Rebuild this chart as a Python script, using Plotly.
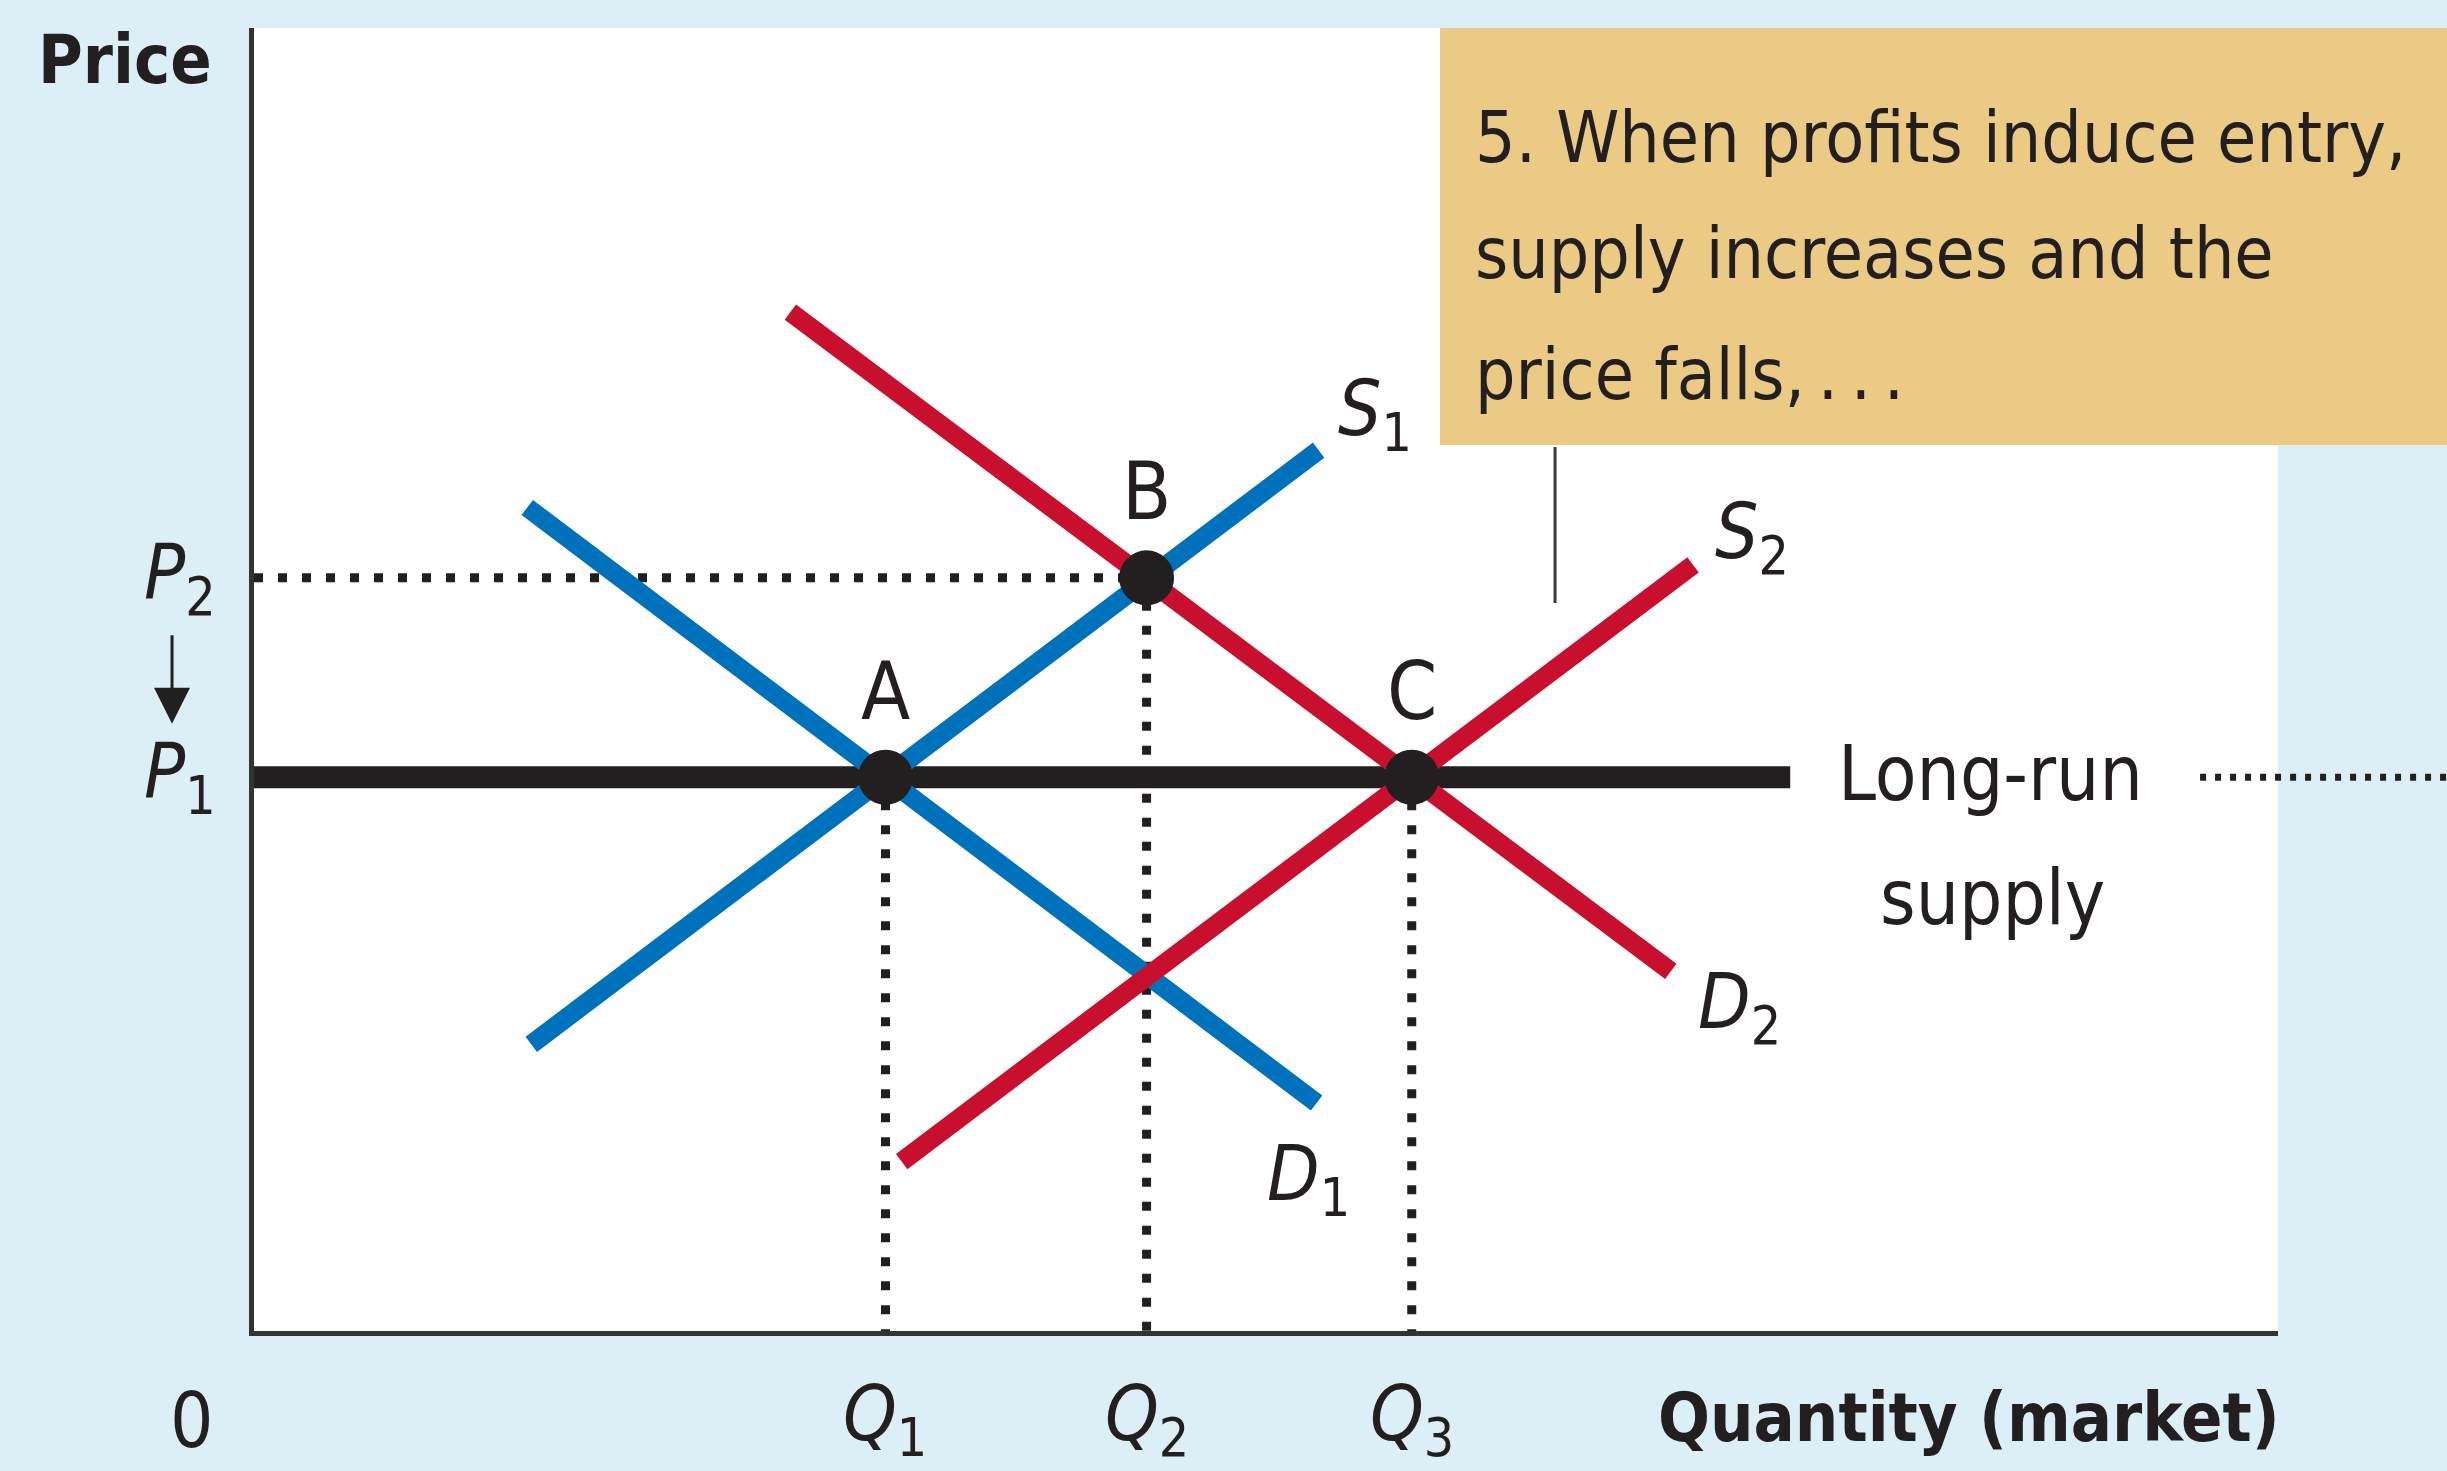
import plotly.graph_objects as go

# ---- data (quantity / price units, 0-100 scale) ----
Q = {"Q1": 31.2, "Q2": 44.1, "Q3": 57.2}
P = {"P1": 42.5, "P2": 57.8}

D1_x = [13.5, 52.5]
D1_y = [63.2, 17.5]
S1_x = [13.7, 52.6]
S1_y = [22.0, 67.6]
D2_x = [26.5, 70.0]
D2_y = [78.2, 27.6]
S2_x = [32.0, 71.1]
S2_y = [13.0, 58.8]
LRS_x = [0, 75.9]

eq_labels = ["A", "B", "C"]
eq_x = [Q["Q1"], Q["Q2"], Q["Q3"]]
eq_y = [P["P1"], P["P2"], P["P1"]]

callout_lines = ["5. When profits induce entry,", "supply increases and the",
                 "price falls,\u2009.\u2009.\u2009."]

BLUE = "#0071BB"
RED = "#C8102E"
INK = "#231F20"
BG = "#DDEFF6"
TAN = "#EACA84"
FONT = "DejaVu Sans Condensed, Liberation Sans Narrow, DejaVu Sans, sans-serif"

W, H = 2447, 1471
ML, MR, MT, MB = 254, 169, 28, 140

fig = go.Figure()

dot_style = dict(color=INK, width=9, dash="9px,15px")
# dotted guide lines
fig.add_trace(go.Scatter(x=[0, Q["Q2"]], y=[P["P2"], P["P2"]], mode="lines", line=dot_style))
fig.add_trace(go.Scatter(x=[Q["Q1"], Q["Q1"]], y=[P["P1"], 0], mode="lines", line=dot_style))
fig.add_trace(go.Scatter(x=[Q["Q2"], Q["Q2"]], y=[P["P2"], 0], mode="lines", line=dot_style))
fig.add_trace(go.Scatter(x=[Q["Q3"], Q["Q3"]], y=[P["P1"], 0], mode="lines", line=dot_style))

# long-run supply
fig.add_trace(go.Scatter(x=LRS_x, y=[P["P1"], P["P1"]], mode="lines", line=dict(color=INK, width=22)))

# curves
for xs, ys, c in [(D1_x, D1_y, BLUE), (S1_x, S1_y, BLUE), (D2_x, D2_y, RED), (S2_x, S2_y, RED)]:
    fig.add_trace(go.Scatter(x=xs, y=ys, mode="lines", line=dict(color=c, width=19)))

# equilibrium points
fig.add_trace(go.Scatter(x=eq_x, y=eq_y, mode="markers",
                         marker=dict(color=INK, size=55, line=dict(width=0))))

ann = []
FS = 76
FSB = 68
FSC = 71

def txt(text, x, y, xref="x", yref="y", size=FS, xanchor="center", yanchor="middle", **kw):
    d = dict(text=text, x=x, y=y, xref=xref, yref=yref, showarrow=False,
             xanchor=xanchor, yanchor=yanchor,
             font=dict(family=FONT, size=size, color=INK))
    d.update(kw)
    ann.append(d)

# point labels
for lab, x, y in zip(eq_labels, eq_x, eq_y):
    txt(lab, x, y, yshift=86, size=80)

# curve labels
txt("<i>S</i><sub>1</sub>", 55.4, 70.4)
txt("<i>S</i><sub>2</sub>", 74.0, 60.9)
txt("<i>D</i><sub>1</sub>", 52.1, 11.7)
txt("<i>D</i><sub>2</sub>", 73.4, 24.9)

# long-run supply label
txt("Long-run", 85.8, 42.8)
txt("supply", 85.9, 33.3)

# price ticks
txt("<i>P</i><sub>2</sub>", 0, P["P2"], xref="paper", xanchor="right", xshift=-36)
txt("<i>P</i><sub>1</sub>", 0, P["P1"], xref="paper", xanchor="right", xshift=-36)
# arrow P2 -> P1
ann.append(dict(x=-0.0405, y=46.6, xref="paper", yref="y", ax=0, ay=-90, showarrow=True,
                arrowhead=2, arrowsize=2.4, arrowwidth=3, arrowcolor=INK, text=""))

# quantity ticks
for name in ["Q1", "Q2", "Q3"]:
    txt("<i>Q</i><sub>%s</sub>" % name[1], Q[name], 0, yref="paper", yshift=-88)
txt("0", 0, 0, xref="paper", yref="paper", xshift=-62, yshift=-89)

# axis titles
txt("<b>Quantity (market)</b>", 1.0, 0, xref="paper", yref="paper", xanchor="right",
    yshift=-86, xshift=4, size=FSB)
txt("<b>Price</b>", 0, 1.0, xref="paper", yref="paper", xanchor="right",
    xshift=-40, yshift=-31, size=FSB)

# callout text (one annotation per line to keep the original line spacing)
callout_y = [0.9163, 0.8266, 0.7337]
for line, yy in zip(callout_lines, callout_y):
    txt(line, 0.6023, yy, xref="paper", yref="paper", xanchor="left", align="left", size=FSC)

shapes = [
    dict(type="rect", xref="paper", yref="paper", x0=0.586, x1=1.09, y0=0.680, y1=1.0,
         fillcolor=TAN, line=dict(width=0), layer="below"),
    dict(type="line", xref="paper", yref="paper", x0=0.6428, x1=0.6428, y0=0.6784, y1=0.5587,
         line=dict(color="#3a3a3a", width=3)),
    dict(type="line", xref="paper", yref="y", x0=0.9615, x1=1.09, y0=P["P1"], y1=P["P1"],
         line=dict(color=INK, width=7, dash="6px,9px")),
]

fig.update_layout(
    width=W, height=H, margin=dict(l=ML, r=MR, t=MT, b=MB),
    paper_bgcolor=BG, plot_bgcolor="white", showlegend=False,
    annotations=ann, shapes=shapes,
    xaxis=dict(range=[0, 100], showgrid=False, zeroline=False, showticklabels=False,
               showline=True, linecolor="#333333", linewidth=5, ticks=""),
    yaxis=dict(range=[0, 100], showgrid=False, zeroline=False, showticklabels=False,
               showline=True, linecolor="#333333", linewidth=5, ticks=""),
)

fig.write_html("out.html", config={"displayModeBar": False},
               post_script="document.body.style.margin='0';document.body.style.background='%s';" % BG)
